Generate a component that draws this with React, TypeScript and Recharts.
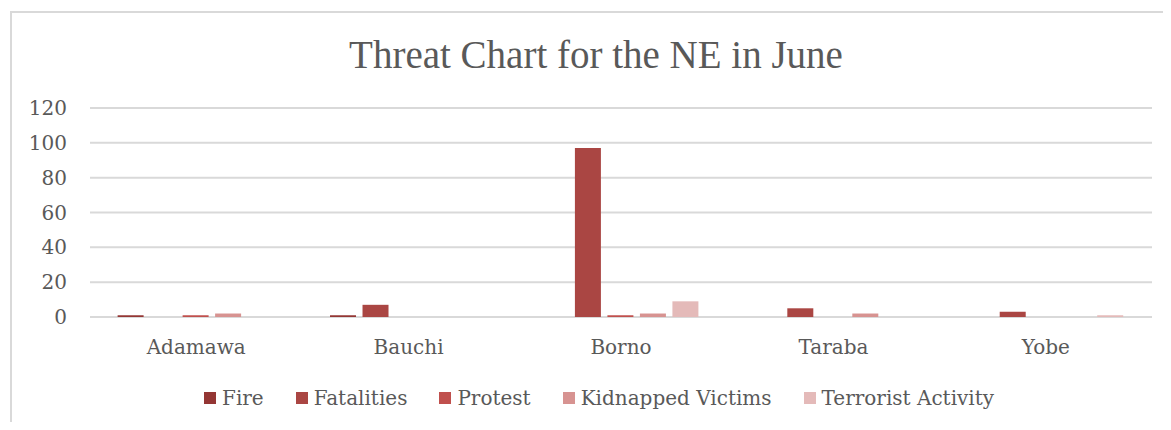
import React from 'react';
import { BarChart, Bar, CartesianGrid, XAxis, YAxis } from 'recharts';

const states = ['Adamawa', 'Bauchi', 'Borno', 'Taraba', 'Yobe'];
const fire = [1, 1, 0, 0, 0];
const fatalities = [0, 7, 97, 5, 3];
const protest = [1, 0, 1, 0, 0];
const kidnapped = [2, 0, 2, 2, 0];
const terrorist = [0, 0, 9, 0, 1];
const yTicks = [0, 20, 40, 60, 80, 100, 120];

const data = states.map((state, i) => ({
  state,
  fire: fire[i],
  fatalities: fatalities[i],
  protest: protest[i],
  kidnapped: kidnapped[i],
  terrorist: terrorist[i],
}));

const series = [
  { key: 'fire', name: 'Fire', color: '#943634' },
  { key: 'fatalities', name: 'Fatalities', color: '#AA4643' },
  { key: 'protest', name: 'Protest', color: '#C0504D' },
  { key: 'kidnapped', name: 'Kidnapped Victims', color: '#D79391' },
  { key: 'terrorist', name: 'Terrorist Activity', color: '#E4BAB9' },
];

const font = '"DejaVu Serif", serif';
const textColor = '#595959';

export default function App() {
  return (
    <div style={{ position: 'relative', margin: -8, width: 1171, height: 430, overflow: 'hidden', background: '#fff' }}>
      <div
        style={{
          position: 'absolute',
          left: 10,
          top: 11,
          width: 1200,
          height: 430,
          borderTop: '2px solid #D9D9D9',
          borderLeft: '2px solid #D9D9D9',
        }}
      />
      <div
        style={{
          position: 'absolute',
          left: 596,
          top: 32,
          transform: 'translateX(-50%)',
          whiteSpace: 'nowrap',
          fontFamily: '"Liberation Serif", serif',
          fontSize: 39,
          color: textColor,
        }}
      >
        Threat Chart for the NE in June
      </div>
      <div style={{ position: 'absolute', left: 0, top: 0 }}>
        <BarChart
          width={1171}
          height={430}
          data={data}
          margin={{ top: 108, right: 19, bottom: 61, left: 0 }}
          barCategoryGap="13%"
          barGap={6.5}
        >
          <CartesianGrid vertical={false} stroke="#D9D9D9" strokeWidth={2} />
          <XAxis
            dataKey="state"
            axisLine={false}
            tickLine={false}
            tickMargin={17}
            height={52}
            tick={{ fill: textColor, fontFamily: font, fontSize: 20 }}
          />
          <YAxis
            width={90}
            domain={[0, 120]}
            ticks={yTicks}
            axisLine={false}
            tickLine={false}
            tickMargin={17}
            tick={{ fill: textColor, fontFamily: font, fontSize: 20 }}
          />
          {series.map((s) => (
            <Bar key={s.key} dataKey={s.key} name={s.name} fill={s.color} isAnimationActive={false} />
          ))}
        </BarChart>
      </div>
      <div
        style={{
          position: 'absolute',
          left: 204,
          top: 386,
          display: 'flex',
          fontFamily: font,
          fontSize: 20,
          color: textColor,
          whiteSpace: 'nowrap',
        }}
      >
        {series.map((s) => (
          <div key={s.key} style={{ display: 'flex', alignItems: 'center', marginRight: 32 }}>
            <span style={{ width: 12, height: 12, background: s.color, marginRight: 6, display: 'inline-block' }} />
            <span>{s.name}</span>
          </div>
        ))}
      </div>
    </div>
  );
}
